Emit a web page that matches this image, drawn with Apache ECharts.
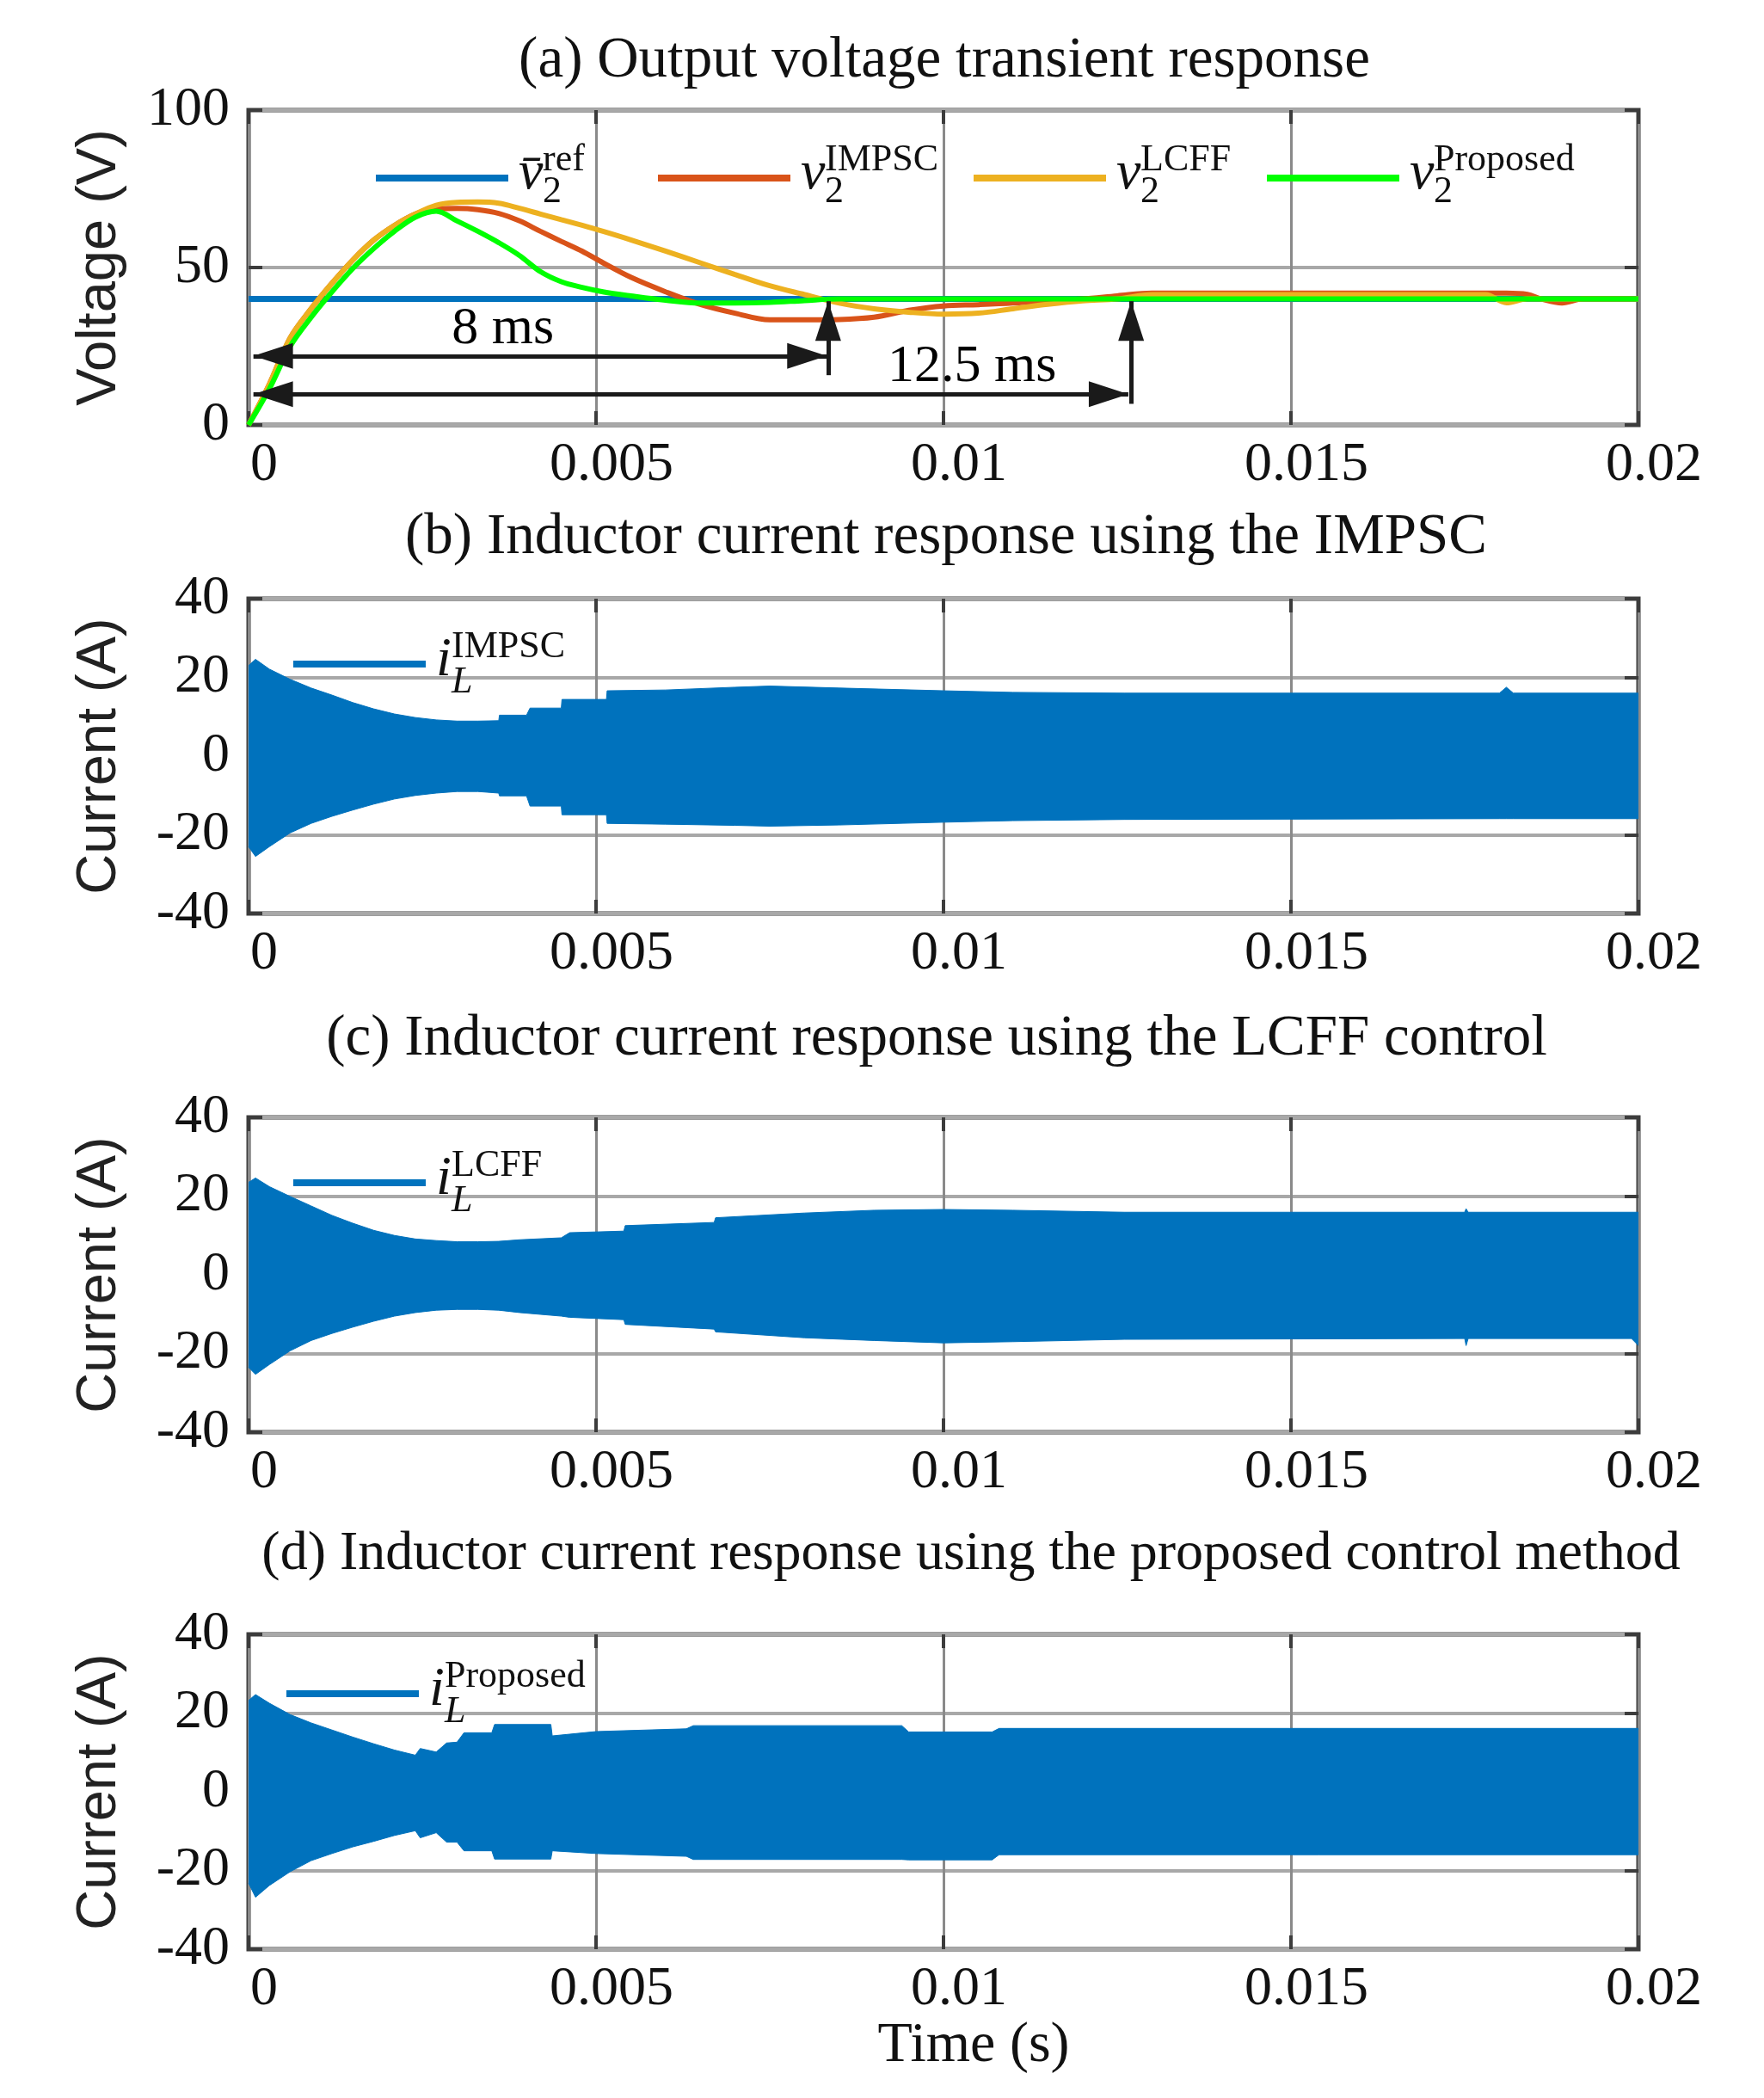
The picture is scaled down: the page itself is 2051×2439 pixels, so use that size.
<!DOCTYPE html>
<html>
<head>
<meta charset="utf-8">
<title>Transient response</title>
<script src="https://cdn.jsdelivr.net/npm/echarts@6/dist/echarts.min.js"></script>
<style>
  html, body { margin: 0; padding: 0; background: #fff; }
  #main { width: 2051px; height: 2439px; }
</style>
</head>
<body>
<div id="main"></div>
<script>
// time axis tick labels (s)
const xTickLabels = ['0', '0.005', '0.01', '0.015', '0.02'];

// (a) output voltage (V)
const vTime = [0, 0.0003, 0.0006, 0.0009, 0.0012, 0.0015, 0.0018, 0.0021, 0.0024, 0.0027,
  0.003, 0.0033, 0.0036, 0.0039, 0.0042, 0.0045, 0.0048, 0.0051, 0.0055, 0.006,
  0.0065, 0.007, 0.0075, 0.008, 0.0085, 0.009, 0.0095, 0.01, 0.0105, 0.011,
  0.0115, 0.012, 0.0125, 0.013, 0.014, 0.015, 0.016, 0.017, 0.0178, 0.0181,
  0.0184, 0.0186, 0.0189, 0.0192, 0.0196, 0.02];
const vIMPSC = [0, 13, 27.7, 36.9, 45, 52.4, 58.7, 63.4, 67, 68.7,
  68.8, 68.4, 67.2, 64.8, 61.5, 58.3, 55.2, 51.5, 46.9, 42.3,
  38.3, 35.5, 33.4, 33.4, 33.5, 34.2, 36.4, 37.8, 38.2, 38.7,
  39.4, 40, 41, 41.9, 41.9, 41.9, 41.9, 41.9, 41.9, 41.9,
  41.5, 40, 38.7, 40, 40, 40];
const vLCFF = [0, 13, 27.7, 36.9, 45, 52.4, 58.7, 63.4, 67, 69.8,
  70.7, 70.8, 70.4, 68.8, 67, 65.2, 63.4, 61.5, 58.8, 55.2,
  51.5, 47.8, 44.2, 41.4, 38.7, 36.9, 35.8, 35.2, 35.5, 36.9,
  38.3, 39.4, 40, 41.4, 41.4, 41.4, 41.4, 41.4, 41.4, 38.8,
  40, 40, 40, 40, 40, 40];
const vProposed = [0, 11.5, 25, 34.2, 42.3, 49.7, 56, 61.5, 66, 67.9,
  64.8, 61.5, 57.9, 53.8, 48.7, 45.5, 43.7, 42.3, 41, 39.6,
  38.7, 38.7, 38.9, 39.5, 40, 40, 40, 40, 40, 40,
  40, 40, 40, 40, 40, 40, 40, 40, 40, 40,
  40, 40, 40, 40, 40, 40];
const refTime = [0, 0.02];
const vRef = [40, 40];

// (b) inductor current envelope, IMPSC (A)
const bTime = [0, 0.0001, 0.0003, 0.0006, 0.0009, 0.0012, 0.0015, 0.0018, 0.0021, 0.0024,
  0.0027, 0.003, 0.0033, 0.0036, 0.00361, 0.004, 0.00405, 0.0045, 0.00451, 0.00515,
  0.00516, 0.006, 0.007, 0.0075, 0.0085, 0.01, 0.011, 0.0126, 0.018, 0.0181, 0.0182, 0.02];
const bUpper = [23, 24.6, 22.1, 19.5, 17.3, 15.5, 13.6, 12, 10.7, 9.8,
  9.2, 8.9, 8.9, 9.0, 10.4, 10.4, 12.2, 12.2, 14.4, 14.4,
  16.6, 16.8, 17.5, 17.8, 17.3, 16.6, 16.2, 16, 16, 17.5, 16, 16];
const bLower = [-23, -25.5, -23, -19.5, -17.1, -15.3, -13.7, -12.2, -10.9, -10,
  -9.4, -9, -9, -9.4, -10.1, -10.1, -12.7, -12.7, -14.9, -14.9,
  -17.1, -17.3, -17.6, -17.8, -17.5, -16.8, -16.4, -16.1, -15.9, -15.9, -15.9, -15.9];

// (c) inductor current envelope, LCFF (A)
const cTime = [0, 0.0001, 0.0003, 0.0006, 0.0009, 0.0012, 0.0015, 0.0018, 0.0021, 0.0024,
  0.0027, 0.003, 0.0033, 0.0036, 0.0039, 0.0045, 0.00462, 0.0054, 0.00542, 0.0067,
  0.00672, 0.008, 0.009, 0.01, 0.011, 0.0126, 0.0175, 0.01752, 0.01755, 0.0199, 0.02];
const cUpper = [23.5, 24.6, 22.4, 19.9, 17.5, 15.1, 13.1, 11.3, 10, 9.1,
  8.7, 8.4, 8.4, 8.5, 8.9, 9.4, 10.7, 11.1, 12.5, 13.3,
  14.5, 15.7, 16.4, 16.6, 16.4, 15.9, 15.9, 16.8, 15.9, 15.9, 15.9];
const cLower = [-23.5, -25.3, -22.8, -19.3, -16.7, -14.9, -13.3, -11.8, -10.5, -9.6,
  -9, -8.8, -8.8, -9, -9.6, -10.5, -10.8, -11.4, -12.6, -13.8,
  -14.5, -16, -16.7, -17.3, -17, -16.4, -16.2, -18, -16.2, -16.2, -18];

// (d) inductor current envelope, proposed (A)
const dTime = [0, 0.0001, 0.0003, 0.0006, 0.0009, 0.0012, 0.0015, 0.0018, 0.0021, 0.0024,
  0.00247, 0.0027, 0.00285, 0.003, 0.0031, 0.0035, 0.00354, 0.00435, 0.00437, 0.005,
  0.0063, 0.0064, 0.0094, 0.0095, 0.0107, 0.0108, 0.02];
const dUpper = [23.2, 24.7, 22.5, 19.6, 17.5, 15.7, 13.9, 12.2, 10.6, 9.3,
  11, 10.1, 12.4, 12.6, 15, 15, 17.1, 17.1, 14.2, 15.3,
  16, 16.8, 16.8, 15.2, 15.2, 16.1, 16.1];
const dLower = [-23.2, -26.8, -23.8, -20.3, -17.5, -15.7, -14, -12.6, -11.1, -9.9,
  -11.7, -10.4, -12.8, -12.8, -15, -15, -17.1, -17.1, -15, -15.7,
  -16.4, -17.2, -17.2, -17.3, -17.3, -16, -16];

// settling-time annotations in panel (a), in data units
const spanArrows = [[0.00007, 0.00832, 21.9], [0.00007, 0.01266, 9.8]];   // [t0, t1, v]
const settleArrows = [[0.00834, 15.8, 39.3], [0.0127, 6.7, 39.3]];       // [t, v0, v1]
const spanLabels = [['8 ms', 0.00366, 30.3], ['12.5 ms', 0.01041, 18.3]];

const serif = 'Liberation Serif';
const sans = 'Liberation Sans';
const ink = '#111111';
const frame = '#3c3c3c';
const blue = '#0072BD';

const panels = [
  { top: 128, yMin: 0, yMax: 100, yStep: 50, yName: 'Voltage (V)', title: '(a) Output voltage transient response', tx: 1098, ty: 71, ts: 67 },
  { top: 696, yMin: -40, yMax: 40, yStep: 20, yName: 'Current (A)', title: '(b) Inductor current response using the IMPSC', tx: 1100, ty: 625, ts: 67 },
  { top: 1299, yMin: -40, yMax: 40, yStep: 20, yName: 'Current (A)', title: '(c) Inductor current response using the LCFF control', tx: 1089, ty: 1208, ts: 67 },
  { top: 1900, yMin: -40, yMax: 40, yStep: 20, yName: 'Current (A)', title: '(d) Inductor current response using the proposed control method', tx: 1129, ty: 1807, ts: 64 }
];

function pairs(t, v) {
  return t.map((x, i) => [x, v[i]]);
}

let grids = [], xAxes = [], yAxes = [], titles = [];
panels.forEach((p, i) => {
  grids.push({ left: 289, top: p.top, width: 1616, height: 366, show: true, backgroundColor: '#fff',
    borderColor: frame, borderWidth: 5, outerBoundsMode: 'none' });
  const tick = () => ({ show: true, inside: true, length: 16, lineStyle: { color: frame, width: 4 } });
  const noLine = () => ({ show: false, onZero: false });
  xAxes.push({
    gridIndex: i, type: 'value', min: 0, max: 0.02, interval: 0.005, position: 'bottom',
    axisLine: noLine(), axisTick: tick(),
    axisLabel: { margin: 15, fontFamily: serif, fontSize: 64, color: ink, padding: [0, 0, 0, 36],
      showMinLabel: true, showMaxLabel: true, formatter: v => xTickLabels[Math.round(v / 0.005)] },
    splitLine: { show: true, lineStyle: { color: '#8a8a8a', width: 3 } },
    name: i === 3 ? 'Time (s)' : '', nameLocation: 'middle', nameGap: 78,
    nameTextStyle: { fontFamily: serif, fontSize: 66, color: ink, padding: [0, 0, 0, 70] }
  });
  xAxes.push({ gridIndex: i, type: 'value', min: 0, max: 0.02, interval: 0.005, position: 'top',
    axisLine: noLine(), axisTick: tick(), axisLabel: { show: false }, splitLine: { show: false } });
  yAxes.push({
    gridIndex: i, type: 'value', min: p.yMin, max: p.yMax, interval: p.yStep, position: 'left',
    axisLine: noLine(), axisTick: tick(),
    axisLabel: { margin: 22, fontFamily: serif, fontSize: 64, color: ink, padding: [15, 0, 0, 0],
      showMinLabel: true, showMaxLabel: true },
    splitLine: { show: true, lineStyle: { color: '#a8a8a8', width: 4 } },
    name: p.yName, nameLocation: 'middle', nameGap: 140,
    nameTextStyle: { fontFamily: sans, fontSize: 65, color: '#222' }
  });
  yAxes.push({ gridIndex: i, type: 'value', min: p.yMin, max: p.yMax, interval: p.yStep, position: 'right',
    axisLine: noLine(), axisTick: tick(), axisLabel: { show: false }, splitLine: { show: false } });
  titles.push({ text: p.title, left: p.tx, top: p.ty, textAlign: 'center', textVerticalAlign: 'middle', padding: 0,
    textStyle: { fontFamily: serif, fontSize: p.ts, fontWeight: 'normal', color: ink } });
});

function curve(name, t, v, color, width, smooth) {
  return { name: name, type: 'line', xAxisIndex: 0, yAxisIndex: 0, data: pairs(t, v), color: color,
    symbol: 'none', showSymbol: false, smooth: smooth, lineStyle: { color: color, width: width } };
}
function band(name, panel, t, v) {
  return { name: name, type: 'line', xAxisIndex: 2 * panel, yAxisIndex: 2 * panel, data: pairs(t, v), color: blue,
    symbol: 'none', showSymbol: false, lineStyle: { color: blue, width: 1 }, areaStyle: { color: blue, opacity: 1 } };
}

const head = { symbol: 'triangle', symbolSize: [30, 46], symbolOffset: [0, '50%'] };
const arrowData = spanArrows.map(a => [
  Object.assign({ coord: [a[0], a[2]] }, head),
  Object.assign({ coord: [a[1], a[2]] }, head)
]).concat(settleArrows.map(a => [
  { coord: [a[0], a[1]], symbol: 'none' },
  Object.assign({ coord: [a[0], a[2]] }, head)
]));

const series = [
  curve('vref', refTime, vRef, blue, 7, false),
  curve('vIMPSC', vTime, vIMPSC, '#D95319', 6, 0.35),
  curve('vLCFF', vTime, vLCFF, '#EDB120', 6, 0.35),
  curve('vProposed', vTime, vProposed, '#00FF00', 6, 0.35),
  {
    name: 'annotations', type: 'line', xAxisIndex: 0, yAxisIndex: 0, data: [], z: 10, symbol: 'none',
    markLine: { silent: true, animation: false, symbol: 'none', label: { show: false },
      lineStyle: { color: '#1a1a1a', width: 5, type: 'solid' }, emphasis: { disabled: true }, data: arrowData },
    markPoint: { silent: true, animation: false, symbol: 'circle', symbolSize: 1, itemStyle: { color: 'rgba(0,0,0,0)' },
      label: { show: true, position: 'inside', formatter: '{b}', fontFamily: serif, fontSize: 62, color: '#000' },
      data: spanLabels.map(s => ({ name: s[0], coord: [s[1], s[2]] })) }
  },
  band('iIMPSC', 1, bTime, bUpper), band('iIMPSC', 1, bTime, bLower),
  band('iLCFF', 2, cTime, cUpper), band('iLCFF', 2, cTime, cLower),
  band('iProposed', 3, dTime, dUpper), band('iProposed', 3, dTime, dLower)
];

// legend labels: base symbol with stacked superscript / subscript
// (every token is top-aligned; its 'height' sets where its centre falls below the line top)
const supText = { vref: 'ref', vIMPSC: 'IMPSC', vLCFF: 'LCFF', vProposed: 'Proposed',
  iIMPSC: 'IMPSC', iLCFF: 'LCFF', iProposed: 'Proposed' };
function legendLabel(name) {
  if (name.charAt(0) === 'v') {
    const base = name === 'vref' ? 'v\u0304' : 'v';
    return '{sp| }{sup|' + supText[name] + '}\n{g| }{v|' + base + '}{sub|2}{st| }';
  }
  return '{spi| }{sup|' + supText[name] + '}\n{g| }{i|i}{subi|L}{sti| }';
}
const rich = {
  sp: { width: 35, lineHeight: 2, height: 2, fontSize: 10, verticalAlign: 'top' },
  spi: { width: 25, lineHeight: 2, height: 2, fontSize: 10, verticalAlign: 'top' },
  sup: { fontFamily: serif, fontSize: 44, lineHeight: 2, height: 30, verticalAlign: 'top', color: ink },
  g: { width: 7, lineHeight: 2, height: 2, fontSize: 10, verticalAlign: 'top' },
  v: { fontFamily: serif, fontStyle: 'italic', fontSize: 64, width: 28, lineHeight: 2, height: 58, verticalAlign: 'top', color: ink },
  i: { fontFamily: serif, fontStyle: 'italic', fontSize: 64, width: 18, lineHeight: 2, height: 58, verticalAlign: 'top', color: ink },
  sub: { fontFamily: serif, fontSize: 44, lineHeight: 2, height: 100, verticalAlign: 'top', color: ink },
  subi: { fontFamily: serif, fontStyle: 'italic', fontSize: 44, lineHeight: 2, height: 108, verticalAlign: 'top', color: ink },
  st: { width: 1, lineHeight: 70, height: 70, fontSize: 10 },
  sti: { width: 1, lineHeight: 68, height: 68, fontSize: 10 }
};
const legendSpots = [
  ['vref', 437, 164], ['vIMPSC', 765, 164], ['vLCFF', 1132, 164], ['vProposed', 1473, 164],
  ['iIMPSC', 341, 730], ['iLCFF', 341, 1333], ['iProposed', 333, 1927]
];
const legends = legendSpots.map(s => ({
  data: [s[0]], left: s[1], top: s[2], orient: 'horizontal', padding: 0, selectedMode: false,
  icon: 'rect', itemWidth: 154, itemHeight: 8, formatter: legendLabel,
  textStyle: { fontFamily: serif, color: ink, rich: rich }
}));

let myChart = echarts.init(document.getElementById('main'));
let option = {
  animation: false,
  backgroundColor: '#fff',
  title: titles,
  legend: legends,
  grid: grids,
  xAxis: xAxes,
  yAxis: yAxes,
  series: series
};
myChart.setOption(option);
</script>
</body>
</html>
